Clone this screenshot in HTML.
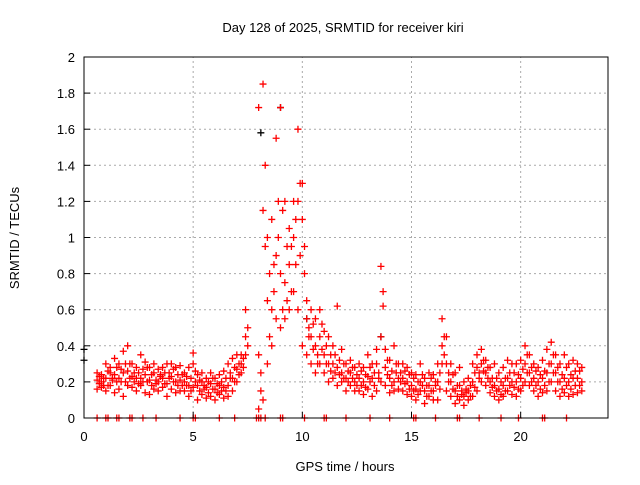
<!DOCTYPE html>
<html><head><meta charset="utf-8"><style>
body{margin:0;background:#fff;}
svg text{font-family:"Liberation Sans",sans-serif;font-size:13px;fill:#000;}
</style></head><body>
<svg id="chart" width="640" height="480" xmlns="http://www.w3.org/2000/svg">
<text x="343" y="32" text-anchor="middle" font-size="14">Day 128 of 2025, SRMTID for receiver kiri</text>
<text transform="translate(19,238) rotate(-90)" text-anchor="middle" font-size="14">SRMTID / TECUs</text>
<text x="345" y="471" text-anchor="middle" font-size="14">GPS time / hours</text>
<g id="grid"></g>
<g id="marks"></g>
<rect x="84" y="57" width="524" height="361" fill="none" stroke="#000" stroke-width="1"/>
<g id="ticks"></g>
</svg>
<script>
const xTicks=[0,5,10,15,20];
const yTicks=[0,0.2,0.4,0.6,0.8,1,1.2,1.4,1.6,1.8,2];
const yTickLabels=["0","0.2","0.4","0.6","0.8","1","1.2","1.4","1.6","1.8","2"];
const tStart=0.6, tStep=0.2, tStart2=0.7;
const lo=[.16,.17,.15,.18,.14,.16,.12,.18,.17,.15,
.18,.14,.13,.16,.15,.17,.12,.16,.14,.15,
.15,.12,.17,.10,.13,.11,.12,.10,.13,.11,
.12,.15,.20,.25,.35,null,null,.05,.10,.30,
.40,.55,.50,.55,.60,.70,.60,.40,.35,.30,
.25,.30,.25,.20,.22,.18,.20,.15,.18,.15,
.15,.13,.16,.12,.15,.20,.18,.14,.15,.16,
.15,.13,.12,.10,.15,.08,.12,.10,.10,.30,
.15,.12,.08,.10,.07,.10,.12,.15,.20,.18,
.14,.12,.10,.12,.15,.13,.12,.15,.20,.18,
.15,.12,.14,.15,.20,.15,.12,.14,.12,.13,.14,.15];
const mid=[.21,.20,.22,.25,.24,.22,.25,.26,.23,.22,
.22,.24,.21,.25,.20,.22,.19,.23,.20,.21,
.20,.18,.30,.18,.20,.17,.19,.16,.18,.17,
.18,.22,.27,.30,.45,null,null,.35,1.15,.65,
.60,.90,.80,.75,.85,1.0,1.20,1.10,.55,.45,
.40,.45,.35,.30,.30,.28,.25,.22,.25,.20,
.22,.20,.23,.22,.30,.45,.28,.22,.20,.22,
.22,.20,.18,.16,.20,.15,.18,.15,.20,.40,
.30,.20,.15,.18,.12,.15,.20,.28,.30,.25,
.20,.18,.16,.18,.22,.20,.20,.22,.30,.25,
.22,.20,.22,.25,.30,.25,.20,.22,.20,.22,.22,.20];
const hi=[.25,.24,.30,.28,.33,.30,.37,.40,.30,.28,
.35,.31,.28,.30,.27,.28,.30,.30,.28,.29,
.25,.28,.36,.24,.25,.22,.25,.22,.24,.26,
.30,.33,.35,.35,.60,null,null,1.72,1.85,1.0,
1.10,1.55,1.72,1.20,1.05,1.20,1.60,1.30,.65,.60,
.55,.60,.48,.45,.40,.62,.38,.30,.32,.28,
.30,.28,.35,.30,.38,.84,.38,.32,.40,.30,
.30,.28,.25,.24,.30,.22,.25,.24,.30,.55,
.45,.30,.25,.28,.20,.22,.30,.35,.38,.32,
.28,.30,.25,.28,.32,.30,.30,.32,.40,.35,
.30,.28,.32,.38,.42,.35,.30,.35,.30,.32,.30,.28];
const a2=[.19,.22,.18,.21,.28,.20,.30,.22,.25,.19,
.27,.20,.24,.19,.23,.19,.25,.20,.24,.18,
.23,.15,.26,.15,.18,.14,.16,.14,.20,.15,
.22,.20,.30,.33,.50,null,null,.15,.95,.45,
.85,1.0,1.15,.95,.70,.85,1.30,.80,.45,.38,
.35,.38,.30,.26,.25,.24,.22,.26,.22,.24,
.18,.24,.20,.25,.25,.62,.24,.26,.25,.20,
.19,.24,.15,.20,.18,.18,.15,.20,.16,.35,
.20,.16,.12,.15,.16,.18,.17,.22,.26,.22,
.22,.15,.20,.15,.25,.17,.24,.18,.35,.20,
.18,.24,.18,.20,.35,.20,.24,.18,.24,.18,.26,null];
const b2=[.23,.18,.26,.22,.20,.27,.20,.30,.20,.25,
.20,.28,.18,.21,.24,.25,.22,.27,.18,.24,
.18,.22,.20,.21,.16,.20,.22,.19,.15,.22,
.25,.28,.24,.28,.40,null,null,.25,1.40,.80,
.70,1.20,.60,.65,.95,1.10,.90,.95,.50,.52,
.30,.52,.40,.35,.35,.32,.30,.20,.28,.18,
.26,.17,.28,.18,.22,.70,.32,.18,.30,.25,
.26,.16,.22,.13,.24,.12,.22,.18,.25,.45,
.25,.24,.18,.13,.14,.12,.25,.25,.32,.28,
.17,.22,.13,.22,.18,.25,.16,.27,.25,.28,
.26,.16,.26,.30,.25,.28,.16,.28,.16,.26,.18,null];
const zeroTimes=[0.6,1.0,1.1,1.5,1.6,2.1,2.2,2.7,3.3,4.4,5.0,5.1,6.2,6.9,7.9,8.0,8.1,8.3,9.0,9.1,10.1,11.0,11.1,12.0,13.1,14.0,15.1,15.2,16.1,17.1,17.2,18.1,19.1,19.9,21.0,21.1,22.1];
const blackT=[0.0,0.0,8.1,9.0,10.2,13.6];
const blackV=[0.38,0.32,1.58,1.72,0.55,0.45];

const X0=84,X1=608,Y0=418,Y1=57;
const xs=t=>X0+(t/24)*(X1-X0);
const ys=v=>Y0-(v/2)*(Y0-Y1);
const NS="http://www.w3.org/2000/svg";
const grid=document.getElementById('grid'),ticks=document.getElementById('ticks'),marks=document.getElementById('marks');
function mk(tag,at,parent){const e=document.createElementNS(NS,tag);for(const k in at)e.setAttribute(k,at[k]);parent.appendChild(e);return e;}
yTicks.forEach((v,i)=>{
  const y=ys(v);
  if(i>0&&i<yTicks.length-1){const g=mk('line',{x1:X0,x2:X1,y1:y,y2:y,stroke:'#aaa','stroke-dasharray':'2,3'},grid);
  
  }
  const t=mk('line',{x1:X0,x2:X0+6,y1:y,y2:y,stroke:'#000'},ticks);
  
  
  const l=mk('text',{x:X0-9,y:y+5,'text-anchor':'end'},ticks);l.textContent=yTickLabels[i];
  
  
});
xTicks.forEach(v=>{
  const x=xs(v);
  if(v>0){const g=mk('line',{x1:x,x2:x,y1:Y0,y2:Y1,stroke:'#aaa','stroke-dasharray':'2,3'},grid);
  
  }
  const t=mk('line',{x1:x,x2:x,y1:Y0,y2:Y0-6,stroke:'#000'},ticks);
  
  
  const l=mk('text',{x:x,y:Y0+23,'text-anchor':'middle'},ticks);l.textContent=String(v);
  
  
});
function plus(t,v,col){
  const x=xs(t),y=ys(v);
  const p=mk('path',{d:`M${x-3.5},${y}H${x+3.5}M${x},${y-3.5}V${y+3.5}`,stroke:col,'stroke-width':1.3,fill:'none'},marks);
  
  
}
blackT.forEach((t,i)=>plus(t,blackV[i],'#000'));
[lo,mid,hi].forEach(arr=>arr.forEach((v,i)=>{if(v!==null)plus(tStart+i*tStep,v,'#f00');}));
[a2,b2].forEach(arr=>arr.forEach((v,i)=>{if(v!==null)plus(tStart2+i*tStep,v,'#f00');}));
zeroTimes.forEach(t=>plus(t,0,'#f00'));
</script>
</body></html>
